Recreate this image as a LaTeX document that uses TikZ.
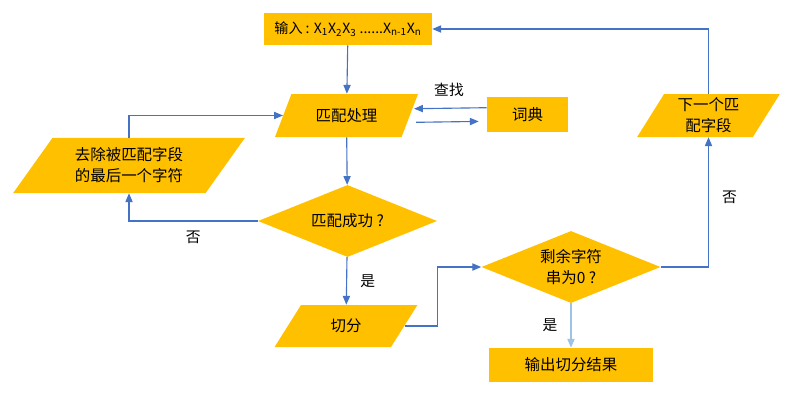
\documentclass[tikz,border=0pt]{standalone}
\usepackage{fontspec}
\setmainfont{Noto Sans CJK SC}
\usetikzlibrary{shapes.geometric,arrows.meta}
\definecolor{boxfill}{HTML}{FFC000}
\definecolor{flowline}{HTML}{4472C4}
\definecolor{paleline}{HTML}{9DC3E6}

\tikzset{
  box/.style={fill=boxfill, inner sep=0pt, align=center, font=\fontsize{11}{15}\selectfont},
  rectbox/.style={box, rectangle},
  slantbox/.style={box, trapezium, trapezium stretches=true,
    trapezium left angle=#1, trapezium right angle=180-#1},
  testbox/.style={box, diamond, aspect=2.5, minimum width=4.475cm, minimum height=1.8cm},
  arr/.style={draw=flowline, line width=0.8pt, -{Triangle[length=2.2mm,width=1.8mm]}},
  lbl/.style={font=\fontsize{10.5}{13}\selectfont}
}

\begin{document}
\begin{tikzpicture}[x=0.025cm, y=-0.025cm]
  \useasboundingbox (0,0) rectangle (802,403);

  \node[rectbox, minimum width=4.2cm, minimum height=0.8cm, font=\fontsize{10}{13}\selectfont] (in) at (348,29)
    {输入 : X\textsubscript{1}X\textsubscript{2}X\textsubscript{3} ......X\textsubscript{n-1}X\textsubscript{n}};
  \node[slantbox=57, minimum width=3.575cm, minimum height=1.075cm] (proc) at (346.5,115.5) {匹配处理};
  \node[rectbox, minimum width=2.025cm, minimum height=0.875cm] (dict) at (527.5,114.5) {词典};
  \node[slantbox=52, minimum width=5.8cm, minimum height=1.375cm] (cut) at (129,165.5) {去除被匹配字段\\的最后一个字符};
  \node[testbox] (match) at (347.5,221) {匹配成功 ?};
  \node[slantbox=57, minimum width=3.575cm, minimum height=1.05cm] (split) at (346,326) {切分};
  \node[testbox] (empty) at (571,267) {剩余字符\\串为0 ?};
  \node[rectbox, minimum width=4.1cm, minimum height=0.85cm] (out) at (571,365) {输出切分结果};
  \node[slantbox=62, minimum width=3.575cm, minimum height=1.075cm] (next) at (708.5,115.5) {下一个匹\\配字段};

  \draw[arr] (in) -- (proc);
  \draw[arr] ([yshift=0.17cm]dict.west) -- ([yshift=0.17cm,xshift=0.1cm]proc.east);
  \draw[arr, shorten >=0.2cm] ([yshift=-0.17cm,xshift=0.15cm]proc.east) -- ([yshift=-0.17cm]dict.west);
  \node[lbl] (find) at (449,90) {查找};
  \draw[arr] (cut.north) |- (proc.west);
  \draw[arr] (proc) -- (match);
  \draw[arr] (match.west) -| node[lbl, pos=0.25, below=3pt] (no1) {否} (cut.south);
  \draw[arr] (match) -- node[lbl, right=6pt] (yes1) {是} (split);
  \draw[arr] (split.east) -- ++(33,0) |- (empty.west);
  \draw[arr, draw=paleline] (empty) -- node[lbl, left=6pt] (yes2) {是} (out);
  \draw[arr] (empty.east) -| node[lbl, pos=0.77, right=6pt] (no2) {否} (next.south);
  \draw[arr] (next.north) |- (in.east);
\end{tikzpicture}
\end{document}
